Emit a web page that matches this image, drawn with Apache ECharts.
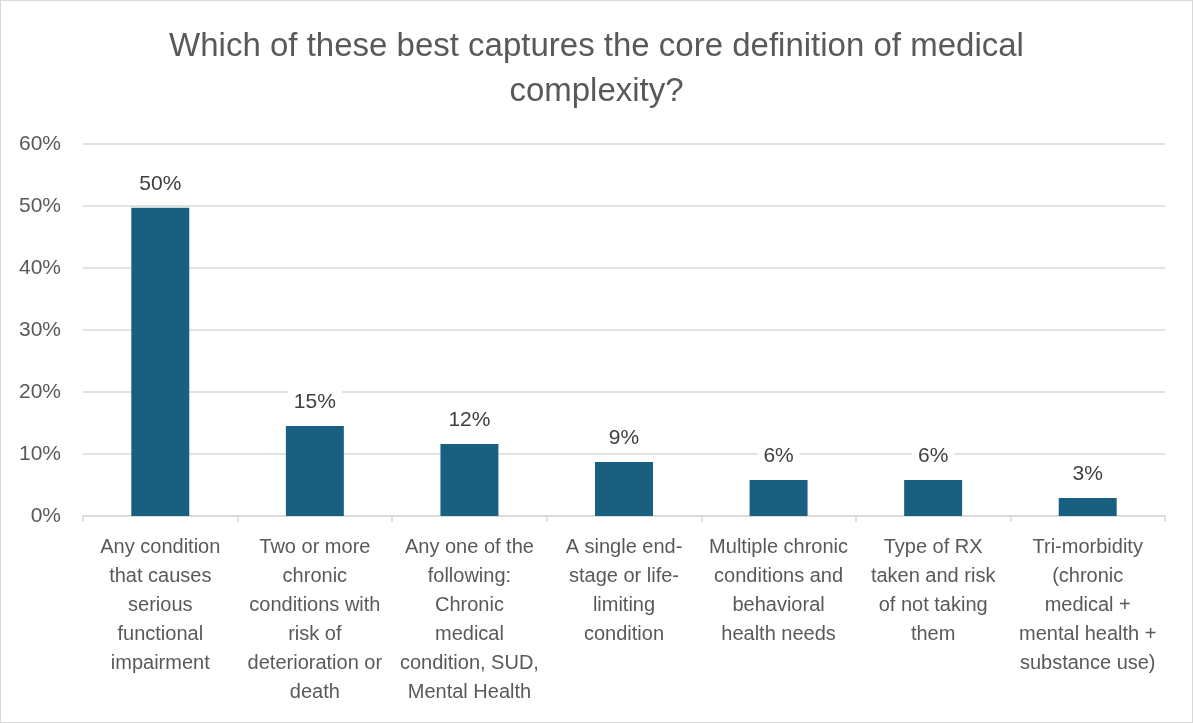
<!DOCTYPE html>
<html>
<head>
<meta charset="utf-8">
<script src="https://cdn.jsdelivr.net/npm/echarts@6/dist/echarts.min.js"></script>
<style>
html,body{margin:0;padding:0;background:#fff;}
#chart{width:1193px;height:723px;box-sizing:border-box;border:1px solid #d9d9d9;}
</style>
</head>
<body>
<div id="chart"></div>
<script>
const titleText = "Which of these best captures the core definition of medical\ncomplexity?";
const categories = [
  "Any condition\nthat causes\nserious\nfunctional\nimpairment",
  "Two or more\nchronic\nconditions with\nrisk of\ndeterioration or\ndeath",
  "Any one of the\nfollowing:\nChronic\nmedical\ncondition, SUD,\nMental Health",
  "A single end-\nstage or life-\nlimiting\ncondition",
  "Multiple chronic\nconditions and\nbehavioral\nhealth needs",
  "Type of RX\ntaken and risk\nof not taking\nthem",
  "Tri-morbidity\n(chronic\nmedical +\nmental health +\nsubstance use)"
];
const values = [49.7, 14.5, 11.6, 8.7, 5.8, 5.8, 2.9];
const yTicks = [0, 10, 20, 30, 40, 50, 60];

const chart = echarts.init(document.getElementById('chart'), null, {renderer: 'canvas'});
const font = '"Liberation Sans", Arial, sans-serif';
chart.setOption({
  animation: false,
  textStyle: {fontFamily: font},
  title: {
    text: titleText,
    left: 'center',
    top: 18,
    textStyle: {fontFamily: font, fontSize: 33, fontWeight: 'normal', color: '#595959', lineHeight: 45}
  },
  grid: {left: 82, right: 27, top: 143, bottom: 206, containLabel: false},
  xAxis: {
    type: 'category',
    data: categories,
    axisLine: {lineStyle: {color: '#d9d9d9', width: 1.5}},
    axisTick: {show: true, alignWithLabel: false, length: 6, lineStyle: {color: '#d9d9d9', width: 1.5}},
    axisLabel: {interval: 0, margin: 17, fontSize: 20, lineHeight: 29, color: '#595959', fontFamily: font, align: 'center', verticalAlign: 'top'}
  },
  yAxis: {
    type: 'value',
    min: yTicks[0],
    max: yTicks[yTicks.length - 1],
    interval: 10,
    axisLine: {show: false},
    axisTick: {show: false},
    splitLine: {lineStyle: {color: '#d9d9d9', width: 1.5}},
    axisLabel: {formatter: v => v + '%', fontSize: 21, color: '#595959', margin: 22, fontFamily: font}
  },
  series: [{
    type: 'bar',
    data: values,
    barWidth: '37.5%',
    itemStyle: {color: '#185F80'},
    label: {
      show: true,
      position: 'top',
      distance: 12,
      formatter: p => Math.round(p.value) + '%',
      fontSize: 21,
      color: '#404040',
      fontFamily: font,
      backgroundColor: '#ffffff',
      padding: [1, 6]
    }
  }]
});
</script>
</body>
</html>
